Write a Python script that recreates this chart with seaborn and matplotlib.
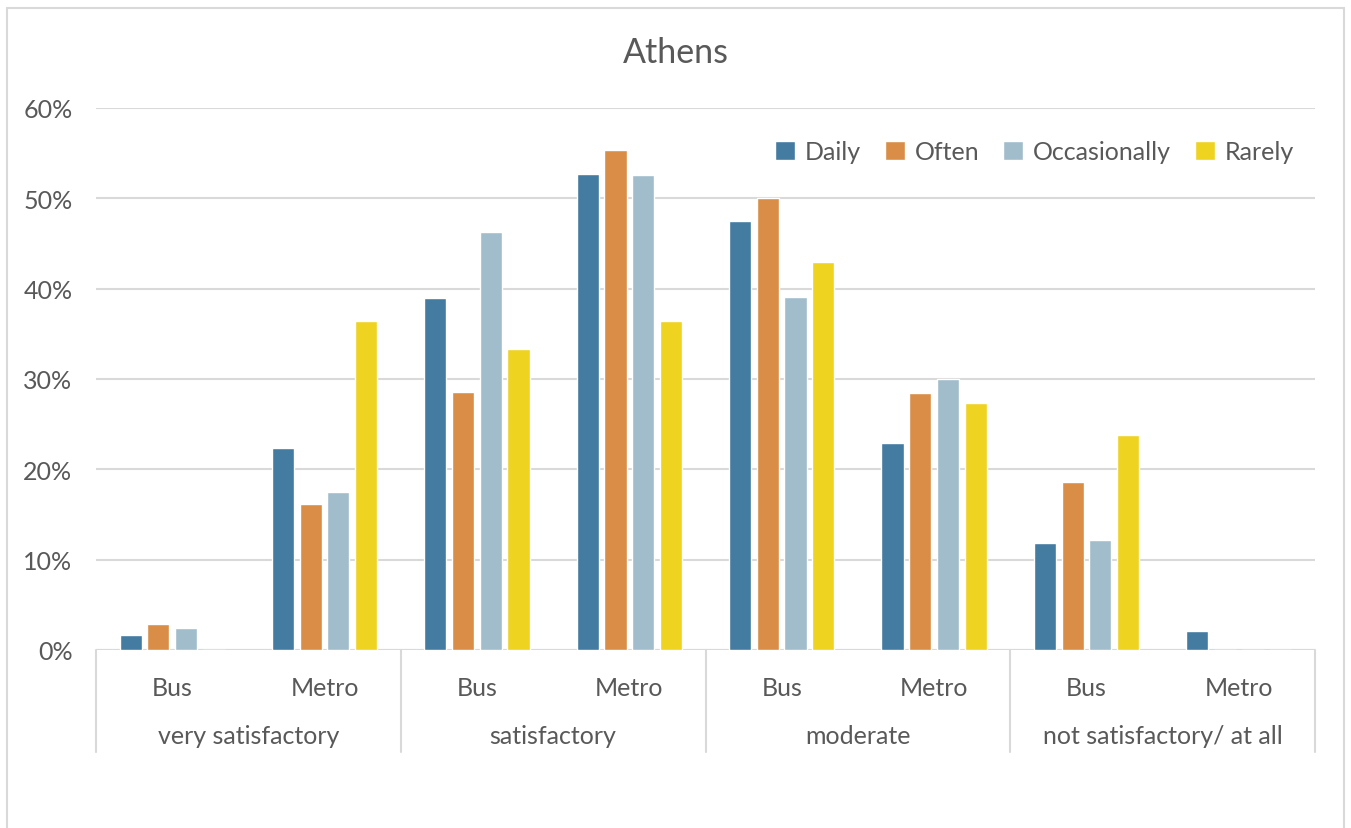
import matplotlib
matplotlib.use("Agg")
import matplotlib.pyplot as plt
import matplotlib.transforms as mtransforms
from matplotlib.lines import Line2D
from matplotlib.patches import Rectangle
import pandas as pd
import seaborn as sns

# Satisfaction levels (outer axis level) and transport modes (inner level)
groups = ["very satisfactory", "satisfactory", "moderate", "not satisfactory/ at all"]
modes = ["Bus", "Metro"]
frequencies = ["Daily", "Often", "Occasionally", "Rarely"]

# Share of respondents (%) per satisfaction level x mode, one list per usage frequency
daily = [1.7, 22.4, 39.0, 52.7, 47.5, 22.9, 11.9, 2.1]
often = [2.9, 16.2, 28.6, 55.4, 50.0, 28.4, 18.6, 0.0]
occasionally = [2.4, 17.5, 46.3, 52.6, 39.1, 30.0, 12.2, 0.0]
rarely = [0.0, 36.4, 33.3, 36.4, 42.9, 27.3, 23.8, 0.0]

colors = ["#447BA1", "#D98D46", "#A1BDCB", "#EED321"]
text_color = "#595959"
grid_color = "#D9D9D9"
fs = 18

sns.set_theme(style="white")
plt.rcParams["font.family"] = ["Lato", "DejaVu Sans"]

cats = [f"{g}|{m}" for g in groups for m in modes]
series = {"Daily": daily, "Often": often, "Occasionally": occasionally, "Rarely": rarely}
rows = []
for freq in frequencies:
    for cat, val in zip(cats, series[freq]):
        rows.append({"cat": cat, "freq": freq, "value": val})
df = pd.DataFrame(rows)

fig = plt.figure(figsize=(13.51, 8.29), dpi=100)
ax = fig.add_axes([96 / 1351, 1 - 651 / 829, (1315 - 96) / 1351, (651 - 109) / 829])

sns.barplot(data=df, x="cat", y="value", hue="freq", order=cats, hue_order=frequencies,
            palette=colors, saturation=1, width=0.727, gap=0.2, ax=ax, errorbar=None)

ax.set_xlim(-0.5, len(cats) - 0.5)
ax.set_ylim(0, 60)
ax.set_yticks(range(0, 61, 10))
ax.set_yticklabels([f"{v}%" for v in range(0, 61, 10)])
ax.yaxis.grid(True, color=grid_color, linewidth=1.5)
ax.set_axisbelow(True)
for s in ax.spines.values():
    s.set_visible(False)
ax.axhline(0, color=grid_color, linewidth=1.5, zorder=0.5)
ax.set_xlabel("")
ax.set_ylabel("")
ax.tick_params(axis="y", length=0, pad=17, labelsize=fs, labelcolor=text_color)
ax.tick_params(axis="x", length=0, pad=19, labelsize=fs, labelcolor=text_color)
ax.set_xticks(range(len(cats)))
ax.set_xticklabels([m for g in groups for m in modes])

# Outer category labels and separators
trans = mtransforms.blended_transform_factory(ax.transData, ax.transAxes)
sep_bottom = -(753 - 651) / (651 - 109)
for i, g in enumerate(groups):
    ax.text(2 * i + 0.5, -(737 - 651) / (651 - 109), g, transform=trans, ha="center",
            va="center", fontsize=fs, color=text_color)
for x in [-0.5, 1.5, 3.5, 5.5, 7.5]:
    ax.add_line(Line2D([x, x], [0, sep_bottom], transform=trans, color=grid_color,
                       linewidth=1.5, clip_on=False))

# Legend across the top right
handles, labels = ax.get_legend_handles_labels()
ax.legend(handles, labels, loc="center right", bbox_to_anchor=(1294 / 1351, 1 - 153 / 829),
          bbox_transform=fig.transFigure, ncol=4, frameon=False, fontsize=fs,
          handlelength=0.8, handleheight=0.8, handletextpad=0.4, columnspacing=0.95,
          borderpad=0, borderaxespad=0, labelcolor=text_color)

fig.text(676 / 1351, 1 - 53 / 829, "Athens", ha="center", va="center", fontsize=24.5,
         color=text_color)

# Chart frame
fig.patches.append(Rectangle((7 / 1351, -0.05), (1344 - 7) / 1351, 1.05 - 9 / 829,
                             transform=fig.transFigure, fill=False, edgecolor=grid_color,
                             linewidth=1.5))

fig.savefig("out.png", dpi=100)
